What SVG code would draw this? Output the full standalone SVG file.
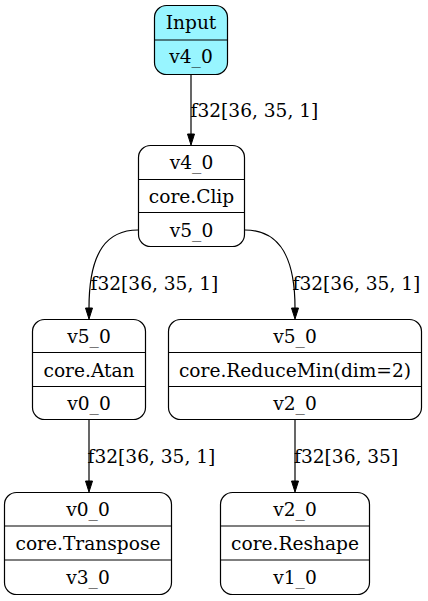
<svg xmlns="http://www.w3.org/2000/svg" width="428" height="601" viewBox="0 0 428 601">
<style>
text{font-family:"DejaVu Serif","Liberation Serif",serif;font-size:18.6px;fill:#000}
.n text{text-anchor:middle}
.box{fill:#fff;stroke:#000;stroke-width:1.2}
.inp{fill:#98f5ff}
.div{stroke:#000;stroke-width:1.2}
.e path{fill:none;stroke:#000;stroke-width:1.2}
.e polygon{fill:#000;stroke:#000}
</style>
<rect width="428" height="601" fill="#fff"/>
<g class="e" id="edges">
<path d="M191,75 L191,134"/><polygon points="187.5,134 191,145 194.5,134"/>
<text x="190.5" y="116.5">f32[36, 35, 1]</text>
<path d="M138,230 C108,230 89,250 89,308"/><polygon points="85.5,308 89,319 92.5,308"/>
<text x="90.5" y="290">f32[36, 35, 1]</text>
<path d="M245,230 C275,230 295,250 295,308"/><polygon points="291.5,308 295,319 298.5,308"/>
<text x="292.5" y="290">f32[36, 35, 1]</text>
<path d="M89,420 L89,481"/><polygon points="85.5,481 89,492 92.5,481"/>
<text x="87.5" y="462.5">f32[36, 35, 1]</text>
<path d="M295,420 L295,481"/><polygon points="291.5,481 295,492 298.5,481"/>
<text x="294" y="462.5">f32[36, 35]</text>
</g>
<g class="n" id="input">
<rect class="box inp" x="154.5" y="5.5" width="73" height="69" rx="12"/>
<line class="div" x1="154.5" y1="40" x2="227.5" y2="40"/>
<text x="191" y="29.3">Input</text>
<text x="191" y="63">v4_0</text>
</g>
<g class="n" id="clip">
<rect class="box" x="138.5" y="145.5" width="106" height="101" rx="12"/>
<line class="div" x1="138.5" y1="179.5" x2="244.5" y2="179.5"/>
<line class="div" x1="138.5" y1="212.5" x2="244.5" y2="212.5"/>
<text x="191.5" y="169">v4_0</text>
<text x="191.5" y="203">core.Clip</text>
<text x="191.5" y="236.5">v5_0</text>
</g>
<g class="n" id="atan">
<rect class="box" x="32.5" y="319.5" width="113" height="100" rx="12"/>
<line class="div" x1="32.5" y1="352.5" x2="145.5" y2="352.5"/>
<line class="div" x1="32.5" y1="386.5" x2="145.5" y2="386.5"/>
<text x="89" y="343">v5_0</text>
<text x="89" y="376.5">core.Atan</text>
<text x="89" y="409.5">v0_0</text>
</g>
<g class="n" id="reducemin">
<rect class="box" x="168.5" y="319.5" width="253" height="100" rx="12"/>
<line class="div" x1="168.5" y1="352.5" x2="421.5" y2="352.5"/>
<line class="div" x1="168.5" y1="386.5" x2="421.5" y2="386.5"/>
<text x="295" y="343">v5_0</text>
<text x="295" y="376.5">core.ReduceMin(dim=2)</text>
<text x="295" y="409.5">v2_0</text>
</g>
<g class="n" id="transpose">
<rect class="box" x="4.5" y="492.5" width="167" height="102" rx="12"/>
<line class="div" x1="4.5" y1="526" x2="171.5" y2="526"/>
<line class="div" x1="4.5" y1="560" x2="171.5" y2="560"/>
<text x="88" y="516">v0_0</text>
<text x="88" y="550">core.Transpose</text>
<text x="88" y="584">v3_0</text>
</g>
<g class="n" id="reshape">
<rect class="box" x="220.5" y="492.5" width="149" height="102" rx="12"/>
<line class="div" x1="220.5" y1="526" x2="369.5" y2="526"/>
<line class="div" x1="220.5" y1="560" x2="369.5" y2="560"/>
<text x="295" y="516">v2_0</text>
<text x="295" y="550">core.Reshape</text>
<text x="295" y="584">v1_0</text>
</g>
</svg>
